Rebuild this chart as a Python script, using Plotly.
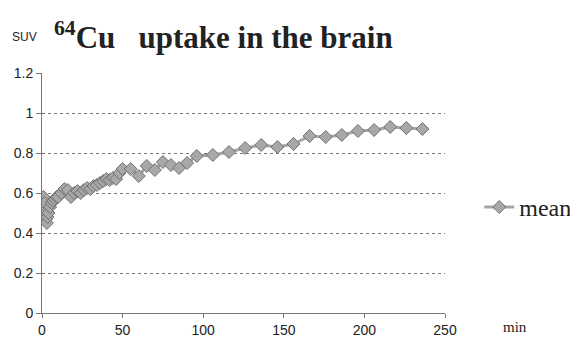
import plotly.graph_objects as go

# Data
time_min = [0.5, 1, 1.5, 2, 2.5, 3, 3.5, 4, 5, 6, 7, 8, 9, 10, 12, 14, 16, 18,
            20, 22, 24, 26, 28, 30, 32, 34, 36, 38, 40, 42, 44, 46, 48, 50,
            55, 60, 65, 70, 75, 80, 85, 90, 96, 106, 116, 126, 136, 146, 156,
            166, 176, 186, 196, 206, 216, 226, 236]
mean_suv = [0.57, 0.58, 0.55, 0.50, 0.47, 0.45, 0.48, 0.50, 0.53, 0.55, 0.56,
            0.57, 0.58, 0.58, 0.60, 0.62, 0.615, 0.58, 0.60, 0.61, 0.60, 0.615,
            0.625, 0.62, 0.635, 0.64, 0.65, 0.66, 0.67, 0.665, 0.675, 0.67,
            0.70, 0.72, 0.72, 0.685, 0.735, 0.715, 0.755, 0.74, 0.725, 0.75,
            0.785, 0.79, 0.805, 0.825, 0.84, 0.83, 0.845, 0.885, 0.88, 0.89,
            0.91, 0.915, 0.93, 0.925, 0.92]
x_ticks = [0, 50, 100, 150, 200, 250]
y_ticks = [0, 0.2, 0.4, 0.6, 0.8, 1.0, 1.2]
y_tick_text = ["0", "0.2", "0.4", "0.6", "0.8", "1", "1.2"]

fig = go.Figure()
fig.add_trace(go.Scatter(
    x=time_min, y=mean_suv, name="mean", mode="lines+markers",
    line=dict(color="#a6a6a6", width=3),
    marker=dict(symbol="diamond", size=10, color="#a8a8a8",
                line=dict(color="#707070", width=1)),
))

# The page body adds an 8px offset, so the figure is 8px smaller than the window
fig.update_layout(
    width=570, height=335,
    margin=dict(l=34, r=133, t=65, b=30, autoexpand=False),
    paper_bgcolor="white", plot_bgcolor="white",
    font=dict(family="Liberation Sans, Arial, sans-serif", color="#222"),
    showlegend=True,
    legend=dict(x=1.085, y=0.44, xanchor="left", yanchor="middle",
                font=dict(family="Liberation Serif, serif", size=24, color="#222"),
                itemwidth=30, bgcolor="rgba(0,0,0,0)"),
    xaxis=dict(range=[0, 250], tickvals=x_ticks, showgrid=False, automargin=False,
               showline=True, linecolor="#777", linewidth=1,
               ticks="outside", ticklen=4, tickcolor="#777",
               tickfont=dict(size=14, color="#222"), zeroline=False),
    yaxis=dict(range=[0, 1.2], tickvals=y_ticks, ticktext=y_tick_text, automargin=False,
               showgrid=True, gridcolor="#777", griddash="dot", gridwidth=1,
               showline=True, linecolor="#777", linewidth=1,
               ticks="outside", ticklen=5, tickcolor="#777",
               tickfont=dict(size=14, color="#222"), zeroline=False),
)

fig.add_annotation(text="<b><sup>64</sup>Cu   uptake in the brain</b>",
                   xref="paper", yref="paper", x=0.025, y=1.0, yshift=38,
                   xanchor="left", yanchor="middle", showarrow=False,
                   font=dict(family="Liberation Serif, serif", size=31, color="#222"))
fig.add_annotation(text="SUV", xref="paper", yref="paper", x=-0.08, y=1.0, yshift=36,
                   xanchor="left", yanchor="middle", showarrow=False,
                   font=dict(family="Liberation Sans, sans-serif", size=12, color="#222"))
fig.add_annotation(text="min", xref="paper", yref="paper", x=1.14, y=0, yshift=-14,
                   xanchor="left", yanchor="middle", showarrow=False,
                   font=dict(family="Liberation Serif, serif", size=15, color="#222"))

fig.write_html("out.html")
